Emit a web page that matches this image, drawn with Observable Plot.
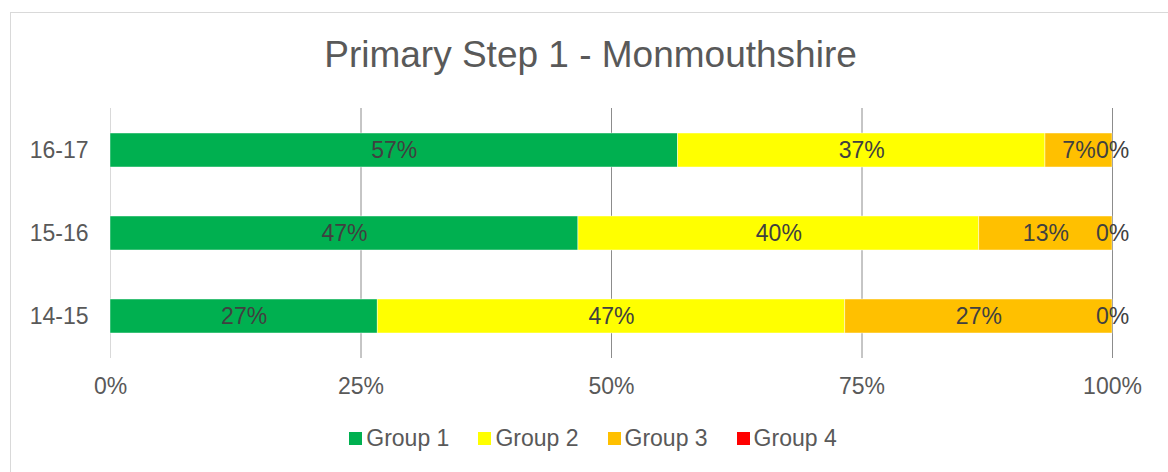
<!DOCTYPE html>
<html>
<head>
<meta charset="utf-8">
<script src="https://cdn.jsdelivr.net/npm/d3@7"></script>
<script src="https://cdn.jsdelivr.net/npm/@observablehq/plot@0.6"></script>
<style>
  html, body { margin: 0; padding: 0; background: #fff; }
  body { width: 1168px; height: 472px; position: relative; overflow: hidden; font-family: "Liberation Sans", Arial, sans-serif; }
  #frame { position: absolute; left: 10px; top: 12px; width: 1200px; height: 500px; border: 1px solid #d9d9d9; box-sizing: border-box; }
  #title { position: absolute; left: 0; width: 1181px; top: 33px; text-align: center; font-size: 37px; color: #595959; line-height: 44px; }
  #chart { position: absolute; left: 0; top: 0; }
  #legend { position: absolute; left: 0; top: 424px; width: 1186px; display: flex; justify-content: center; gap: 29px; font-size: 23px; color: #595959; line-height: 28px; }
  #legend .item { display: flex; align-items: center; }
  #legend .sw { width: 13px; height: 13px; margin-right: 4px; }
</style>
</head>
<body>
<div id="frame"></div>
<div id="title">Primary Step 1 - Monmouthshire</div>
<div id="chart"></div>
<div id="legend"></div>
<script>
const years = ["16-17", "15-16", "14-15"];
const groups = ["Group 1", "Group 2", "Group 3", "Group 4"];
const colors = ["#00b050", "#ffff00", "#ffc000", "#ff0000"];
const group1 = [56.7, 46.7, 26.7];
const group2 = [36.7, 40.0, 46.7];
const group3 = [6.7, 13.3, 26.7];
const group4 = [0, 0, 0];
const xTicks = [0, 0.25, 0.5, 0.75, 1];

const series = [group1, group2, group3, group4];
const data = [];
years.forEach((y, i) => {
  groups.forEach((g, j) => {
    data.push({year: y, group: g, value: series[j][i]});
  });
});

const stackOpts = {x: "value", y: "year", z: "group", order: groups, offset: "normalize"};

const plot = Plot.plot({
  width: 1168,
  height: 410,
  marginTop: 108,
  marginBottom: 52,
  marginLeft: 110,
  marginRight: 56,
  style: {fontFamily: "'Liberation Sans', Arial, sans-serif", fontSize: "23px", color: "#595959", background: "transparent", overflow: "visible"},
  x: {domain: [0, 1], ticks: xTicks, tickFormat: d3.format(".0%")},
  y: {domain: years, paddingInner: 0.59, paddingOuter: 0.295},
  color: {domain: groups, range: colors},
  marks: [
    Plot.ruleX([0], {stroke: "#d9d9d9", strokeWidth: 1}),
    Plot.ruleX(xTicks.slice(1), {stroke: "#8c8c8c", strokeWidth: 1}),
    Plot.barX(data, Plot.stackX({...stackOpts, fill: "group", stroke: "white", strokeWidth: 0.75, strokeOpacity: 0.6})),
    Plot.text(data, Plot.stackX({...stackOpts, text: d => Math.round(d.value) + "%", fill: "#404040", fontSize: 23})),
    Plot.axisX({ticks: xTicks, tickFormat: d3.format(".0%"), tickSize: 0, tickPadding: 19, fontSize: 23, fill: "#595959", label: null}),
    Plot.axisY({tickSize: 0, tickPadding: 22, fontSize: 23, fill: "#595959", label: null})
  ]
});
document.getElementById("chart").appendChild(plot);

const legend = document.getElementById("legend");
groups.forEach((g, i) => {
  const item = document.createElement("div");
  item.className = "item";
  const sw = document.createElement("span");
  sw.className = "sw";
  sw.style.background = colors[i];
  const t = document.createElement("span");
  t.textContent = g;
  item.appendChild(sw);
  item.appendChild(t);
  legend.appendChild(item);
});
</script>
</body>
</html>
